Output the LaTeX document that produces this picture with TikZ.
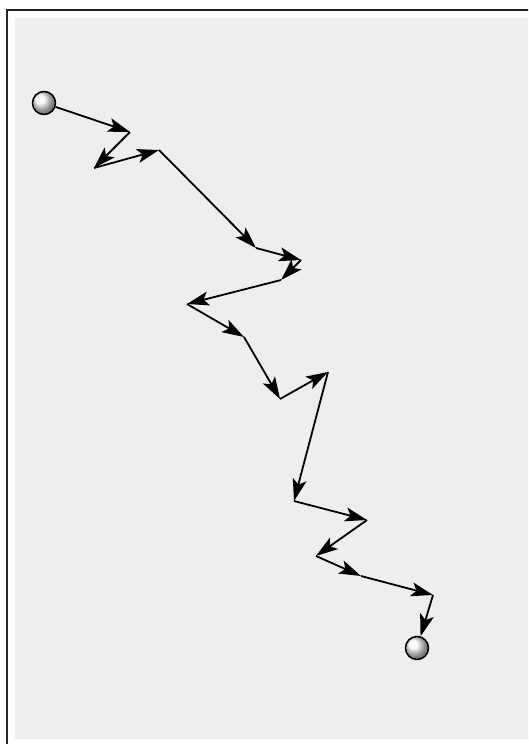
\documentclass[tikz,border=0pt]{standalone}
\usetikzlibrary{arrows.meta,shadings}
\begin{document}
\begin{tikzpicture}[x=1pt,y=-1pt,
  ballnode/.style={circle,minimum size=23pt,inner sep=0pt,shading=ball,ball color=gray!8,draw=black,line width=1.5pt},
  walk/.style={line width=1.8pt,-{Stealth[length=22pt,width=14pt,inset=5pt]}}]
\useasboundingbox (0,0) rectangle (528,744);
\clip (0,0) rectangle (528,744);
\fill[white] (0,0) rectangle (528,744);
\draw[line width=2pt,draw=black!85] (7,10) rectangle (560,780);
\fill[black!6.5] (15,18) rectangle (560,739);
\node[ballnode] (s) at (44,103) {};
\node[ballnode] (e) at (417,648) {};
\coordinate (p1) at (130,132);
\coordinate (p2) at (94,168);
\coordinate (p3) at (159,150);
\coordinate (p4) at (256,248);
\coordinate (p5) at (301,260);
\coordinate (p6) at (281,280);
\coordinate (p7) at (187,304);
\coordinate (p8) at (244,337);
\coordinate (p9) at (280,399);
\coordinate (p10) at (328,372);
\coordinate (p11) at (294,501);
\coordinate (p12) at (367,520);
\coordinate (p13) at (316,556);
\coordinate (p14) at (361,576);
\coordinate (p15) at (433,595);
\draw[walk] (s) -- (p1);
\draw[walk] (p1) -- (p2);
\draw[walk] (p2) -- (p3);
\draw[walk] (p3) -- (p4);
\draw[walk] (p4) -- (p5);
\draw[walk] (p5) -- (p6);
\draw[walk] (p6) -- (p7);
\draw[walk] (p7) -- (p8);
\draw[walk] (p8) -- (p9);
\draw[walk] (p9) -- (p10);
\draw[walk] (p10) -- (p11);
\draw[walk] (p11) -- (p12);
\draw[walk] (p12) -- (p13);
\draw[walk] (p13) -- (p14);
\draw[walk] (p14) -- (p15);
\draw[walk] (p15) -- (e);
\end{tikzpicture}
\end{document}
